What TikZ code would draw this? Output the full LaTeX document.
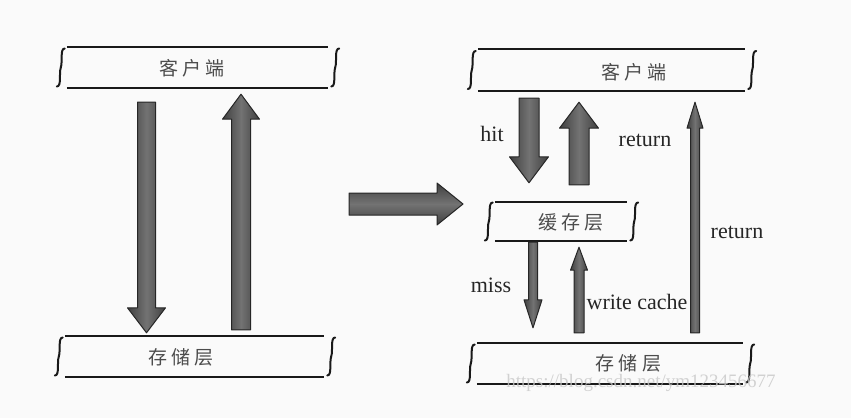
\documentclass[tikz,border=0pt]{standalone}
\usepackage{fontspec}
\setmainfont{Liberation Serif}
\newfontfamily\cjk[LetterSpace=22]{Noto Sans CJK SC}
\usetikzlibrary{calc,positioning}

\begin{document}
\begin{tikzpicture}[x=1pt,y=-1pt,
layer/.style={
    rectangle,
    inner sep=0,
    minimum height=41pt},
cn/.style={
    inner sep=0,
    font=\cjk\fontsize{19}{21}\selectfont,
    text=black!70},
edge/.style={
    line width=2pt,
    draw=black!90},
brace/.style={
    line width=2pt,
    draw=black!90,
    line cap=round},
fat/.style n args={3}{
    draw=black!85,
    line width=1pt,
    line join=round,
    left color=black!75,
    right color=black!75,
    middle color=black!55,
    to path={let \p1=($(\tikztotarget)!#3!(\tikztostart)$) in
      ($(\tikztostart)!#1!90:(\tikztotarget)$) -- ($(\p1)!#1!-90:(\tikztostart)$)
      -- ($(\p1)!#2!-90:(\tikztostart)$) -- (\tikztotarget)
      -- ($(\p1)!#2!90:(\tikztostart)$) -- ($(\p1)!#1!90:(\tikztostart)$)
      -- ($(\tikztostart)!#1!-90:(\tikztotarget)$) -- cycle}},
tag/.style={
    inner sep=0,
    font=\fontsize{22}{24}\selectfont,
    text=black!85}
]
\useasboundingbox (0,0) rectangle (851,418);
\fill[black!2] (0,0) rectangle (851,418);

\node(client1) [layer,minimum width=261pt] at (197.5,67.5) {};
\node(store1) [layer,minimum width=259pt] at (194.5,356.5) {};
\node(client2) [layer,minimum width=267pt,minimum height=42pt] at (611.5,70) {};
\node(store2) [layer,minimum width=266pt] at (610,363.5) {};
\node(cache) [layer,minimum width=132pt,minimum height=39pt] at (561,221.5) {};

\foreach \b in {client1,store1,client2,store2,cache} {
  \draw[edge] (\b.north west) -- (\b.north east) (\b.south west) -- (\b.south east);
  \foreach \s/\a in {west/-6,east/7}
    \draw[brace] ([shift={(\a+4,-19)}]\b.\s) .. controls ([shift={(\a-1,-19)}]\b.\s) and ([shift={(\a+2,-6)}]\b.\s) .. ([shift={(\a,0)}]\b.\s)
      .. controls ([shift={(\a-2,6)}]\b.\s) and ([shift={(\a+1,19)}]\b.\s) .. ([shift={(\a-4,19)}]\b.\s);
}

\node(client1txt) [cn] at (192,68.5) {客户端};
\node(store1txt) [cn] at (181,357.5) {存储层};
\node(client2txt) [cn] at (634,72.5) {客户端};
\node(cachetxt) [cn] at (571,222.5) {缓存层};
\node(store2txt) [cn] at (628.5,363) {存储层};

\draw[fat={9pt}{19pt}{25pt}] ([shift={(-51,14)}]client1.south) to ([shift={(-48,-3)}]store1.north);
\draw[fat={9.5pt}{18.5pt}{25pt}] ([shift={(46.5,-6)}]store1.north) to ([shift={(43.5,6)}]client1.south);

\coordinate(from) at (349,204);
\coordinate(into) at (463,204);
\draw[fat={11pt}{21pt}{26pt},top color=black!75,bottom color=black!75,middle color=black!55] (from) to (into);

\draw[fat={10pt}{19.5pt}{26pt}] ([shift={(-82.5,7)}]client2.south) to ([shift={(-32,-19)}]cache.north);
\draw[fat={10pt}{19.5pt}{26pt}] ([shift={(18,-17)}]cache.north) to ([shift={(-32.5,11)}]client2.south);
\draw[fat={4.5pt}{9pt}{28pt}] ([shift={(-28,1)}]cache.south) to ([shift={(-77,-15)}]store2.north);
\draw[fat={5pt}{8.5pt}{23pt}] ([shift={(-31,-10)}]store2.north) to ([shift={(18,6)}]cache.south);
\draw[fat={4.5pt}{8pt}{26pt}] ([shift={(85,-10)}]store2.north) to ([shift={(83.5,11)}]client2.south);

\node(hit) [tag] at (492,134) {hit};
\node(ret1) [tag] at (645,140.5) {return};
\node(miss) [tag] at (491,285.5) {miss};
\node(write) [tag] at (637,301.5) {write cache};
\node(ret2) [tag] at (737,232.5) {return};

\node(mark) [inner sep=0,font=\fontsize{19}{21}\selectfont,text=black!22,opacity=0.8] at (641,383) {https://blog.csdn.net/ym123456677};
\end{tikzpicture}
\end{document}
